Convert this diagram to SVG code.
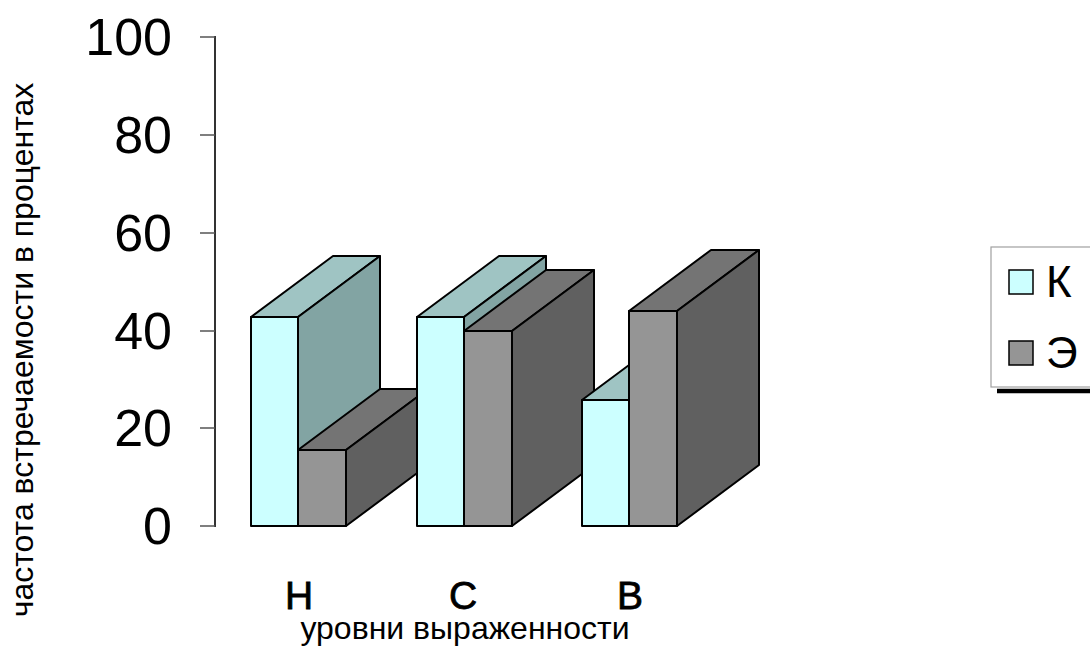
<svg xmlns="http://www.w3.org/2000/svg" width="1090" height="646" viewBox="0 0 1090 646">
<style>
text{font-family:"Liberation Sans",Arial,sans-serif;fill:#000}
.tick{font-size:52px;text-anchor:end}
.cat{font-size:39px;text-anchor:middle;stroke:#000;stroke-width:0.8}
.title{font-size:32px;text-anchor:middle}
.leg{font-size:44px}
.bar polygon,.bar rect{stroke:#000;stroke-width:2;stroke-linejoin:round}
.kf{fill:#CCFFFF}.kt{fill:#9FC4C3}.ks{fill:#82A4A3}
.ef{fill:#959595}.et{fill:#747474}.es{fill:#606060}
</style>
<rect width="1090" height="646" fill="#fff"/>
<g id="axis">
<line x1="215" y1="36" x2="215" y2="527" stroke="#333" stroke-width="2"/>
<g stroke="#555" stroke-width="1.5">
<line x1="200" y1="37" x2="215" y2="37"/>
<line x1="200" y1="135" x2="215" y2="135"/>
<line x1="200" y1="233" x2="215" y2="233"/>
<line x1="200" y1="331" x2="215" y2="331"/>
<line x1="200" y1="428" x2="215" y2="428"/>
<line x1="200" y1="526" x2="215" y2="526"/>
</g>
<text class="tick" x="172" y="55">100</text>
<text class="tick" x="172" y="153">80</text>
<text class="tick" x="172" y="251">60</text>
<text class="tick" x="172" y="349">40</text>
<text class="tick" x="172" y="446">20</text>
<text class="tick" x="172" y="544">0</text>
</g>
<g id="bars" class="bar">
<g id="bar-N-K">
<polygon class="kt" points="251,317 298,317 380,256 333,256"/>
<polygon class="ks" points="298,317 380,256 380,465 298,526"/>
<rect class="kf" x="251" y="317" width="47" height="209"/>
</g>
<g id="bar-N-E">
<polygon class="et" points="298,450 346,450 428,389 380,389"/>
<polygon class="es" points="346,450 428,389 428,465 346,526"/>
<rect class="ef" x="298" y="450" width="48" height="76"/>
</g>
<g id="bar-C-K">
<polygon class="kt" points="417,317 464,317 546,256 499,256"/>
<polygon class="ks" points="464,317 546,256 546,465 464,526"/>
<rect class="kf" x="417" y="317" width="47" height="209"/>
</g>
<g id="bar-C-E">
<polygon class="et" points="464,331 512,331 594,270 546,270"/>
<polygon class="es" points="512,331 594,270 594,465 512,526"/>
<rect class="ef" x="464" y="331" width="48" height="195"/>
</g>
<g id="bar-B-K">
<polygon class="kt" points="582,400 629,400 711,339 664,339"/>
<polygon class="ks" points="629,400 711,339 711,465 629,526"/>
<rect class="kf" x="582" y="400" width="47" height="126"/>
</g>
<g id="bar-B-E">
<polygon class="et" points="629,311 677,311 759,250 711,250"/>
<polygon class="es" points="677,311 759,250 759,465 677,526"/>
<rect class="ef" x="629" y="311" width="48" height="215"/>
</g>
</g>
<g id="labels">
<text class="cat" x="299" y="609">Н</text>
<text class="cat" x="463" y="609">С</text>
<text class="cat" x="630" y="609">В</text>
<text class="title" x="465" y="639">уровни выраженности</text>
<text class="title" transform="translate(33,350) rotate(-90)">частота встречаемости в процентах</text>
</g>
<g id="legend">
<rect x="991" y="247" width="120" height="140" fill="#fff" stroke="#a0a0a0" stroke-width="1.2"/>
<line x1="997" y1="391" x2="1090" y2="391" stroke="#000" stroke-width="4.5"/>
<rect x="1009" y="270" width="24" height="24" fill="#CCFFFF" stroke="#000" stroke-width="1.5"/>
<text class="leg" x="1046" y="297">К</text>
<rect x="1009" y="341" width="24" height="24" fill="#959595" stroke="#000" stroke-width="1.5"/>
<text class="leg" x="1046" y="368">Э</text>
</g>
</svg>
